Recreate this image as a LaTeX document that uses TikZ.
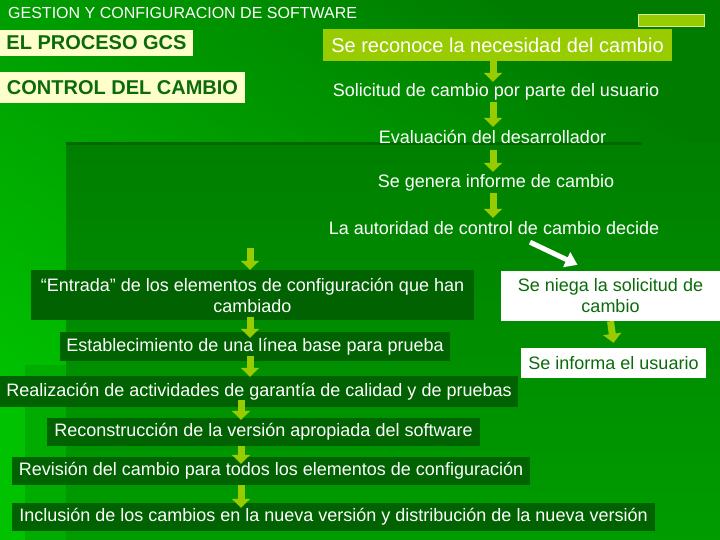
\documentclass[tikz,border=0pt]{standalone}
\usepackage{fontspec}
\setmainfont{Liberation Sans}
\usepackage{tikz}
\usetikzlibrary{arrows.meta,calc,positioning}
\definecolor{colorbgd}{HTML}{007C00}
\definecolor{colorbgl}{HTML}{00C200}
\definecolor{colorint}{HTML}{007F00}
\definecolor{colorinb}{HTML}{009C00}
\definecolor{colorstr}{HTML}{00AC00}
\definecolor{colorbox}{HTML}{006200}
\definecolor{coloryg}{HTML}{99CC00}
\definecolor{colorcr}{HTML}{FFFFCC}
\definecolor{colortx}{HTML}{0B6B0B}
\newcommand\fsz[1]{\fontsize{#1}{1.17\dimexpr#1pt\relax}\selectfont}
\tikzset{txt/.style={text=white, inner sep=0pt, minimum height=20pt, font=\fsz{18}}}
\tikzset{dbox/.style={fill=colorbox, text=white, inner sep=0pt, align=center, font=\fsz{18}}}
\tikzset{wbox/.style={fill=white, text=colortx, inner sep=0pt, align=center, font=\fsz{18}}}
\tikzset{ybox/.style={fill=coloryg, text=white, inner sep=0pt, font=\fsz{20}}}
\tikzset{cbox/.style={fill=colorcr, text=colortx, inner sep=0pt, font=\bfseries\fsz{20}}}
\tikzset{
  edgeblk/.style={coloryg, line width=7pt, -{Triangle[width=18pt,length=9pt]}},
  edgewh/.style={white, line width=5pt, -{Triangle[width=16pt,length=12pt]}}
}

\begin{document}
\begin{tikzpicture}[x=1pt,y=-1pt]
\useasboundingbox (0,0) rectangle (720,540);
% fondo
\shade[top color=colorbgd, bottom color=colorbgl, shading angle=-35]
  (0,0) rectangle (720,540);
\shade[top color=colorint, bottom color=colorinb] (66,143) rectangle (720,540);
\fill[colorstr] (25,365) rectangle (66,540);
\draw[line width=3pt, colorbox!80!colorint] (66,144) -- (642,144);

\node[txt, anchor=west, font=\fsz{16}] (titulo) at (8,13)
{GESTION Y CONFIGURACION DE SOFTWARE};
\node[fill=coloryg, draw=white!60!coloryg, minimum width=66pt,
  minimum height=12pt, inner sep=0pt] (deco) at (671,20) {};

\node[cbox, minimum width=193pt, minimum height=26pt] (gcs) at (96.5,43)
{EL PROCESO GCS};
\node[cbox, minimum width=245pt, minimum height=31pt] (ctrl) at (122.5,87.5)
{CONTROL DEL CAMBIO};

% columna derecha
\node[ybox, minimum width=349pt, minimum height=32pt] (rec) at (497.5,45)
{Se reconoce la necesidad del cambio};
\node[txt] (sol) at (496,92) {Solicitud de cambio por parte del usuario};
\node[txt] (eval) at (492.5,137) {Evaluación del desarrollador};
\node[txt] (gen) at (496,183) {Se genera informe de cambio};
\node[txt] (decide) at (494,228) {La autoridad de control de cambio decide};

\node[wbox, minimum width=219pt, minimum height=50pt] (niega) at (610.5,296)
{Se niega la solicitud de\\cambio};
\node[wbox, minimum width=185pt, minimum height=30pt] (informa) at (613.5,363)
{Se informa el usuario};

% columna izquierda
\node[dbox, minimum width=443pt, minimum height=50pt] (entrada) at (252.5,295)
{“Entrada” de los elementos de configuración que han\\cambiado};
\node[dbox, minimum width=390pt, minimum height=29pt] (linea) at (255,346.5)
{Establecimiento de una línea base para prueba};
\node[dbox, minimum width=518pt, minimum height=31pt] (realiz) at (259,391.5)
{Realización de actividades de garantía de calidad y de pruebas};
\node[dbox, minimum width=433pt, minimum height=28pt] (recons) at (263.5,432)
{Reconstrucción de la versión apropiada del software};
\node[dbox, minimum width=518pt, minimum height=28pt] (revis) at (271,471)
{Revisión del cambio para todos los elementos de configuración};
\node[dbox, minimum width=643pt, minimum height=28pt] (inclu) at (333.5,517)
{Inclusión de los cambios en la nueva versión y distribución de la nueva versión};

\coordinate (colA) at (493,0);
\coordinate (colB) at (250,0);
\coordinate (colC) at (241,0);
\coordinate (acepta) at (250,248);

\draw[edgeblk] (rec.south -| colA) -- (sol.north -| colA);
\draw[edgeblk] (sol.south -| colA) -- (eval.north -| colA);
\draw[edgeblk] ([yshift=-3pt]eval.south -| colA) -- ([yshift=1pt]gen.north -| colA);
\draw[edgeblk] (gen.south -| colA) -- (decide.north -| colA);

\draw[edgewh] ([xshift=36pt,yshift=-4pt]decide.south)
  -- ([xshift=-33pt,yshift=6pt]niega.north);
\draw[edgeblk] (niega.south) -- ([yshift=5pt]informa.north);

\draw[edgeblk] (acepta) -- (entrada.north -| colB);
\draw[edgeblk] ([yshift=3pt]entrada.south -| colB) -- ([yshift=-6pt]linea.north -| colB);
\draw[edgeblk] ([yshift=5pt]linea.south -| colB) -- ([yshift=-1pt]realiz.north -| colB);
\draw[edgeblk] ([yshift=7pt]realiz.south -| colC) -- ([yshift=-2pt]recons.north -| colC);
\draw[edgeblk] (recons.south -| colC) -- ([yshift=-7pt]revis.north -| colC);
\draw[edgeblk] (revis.south -| colC) -- ([yshift=-5pt]inclu.north -| colC);
\end{tikzpicture}
\end{document}
